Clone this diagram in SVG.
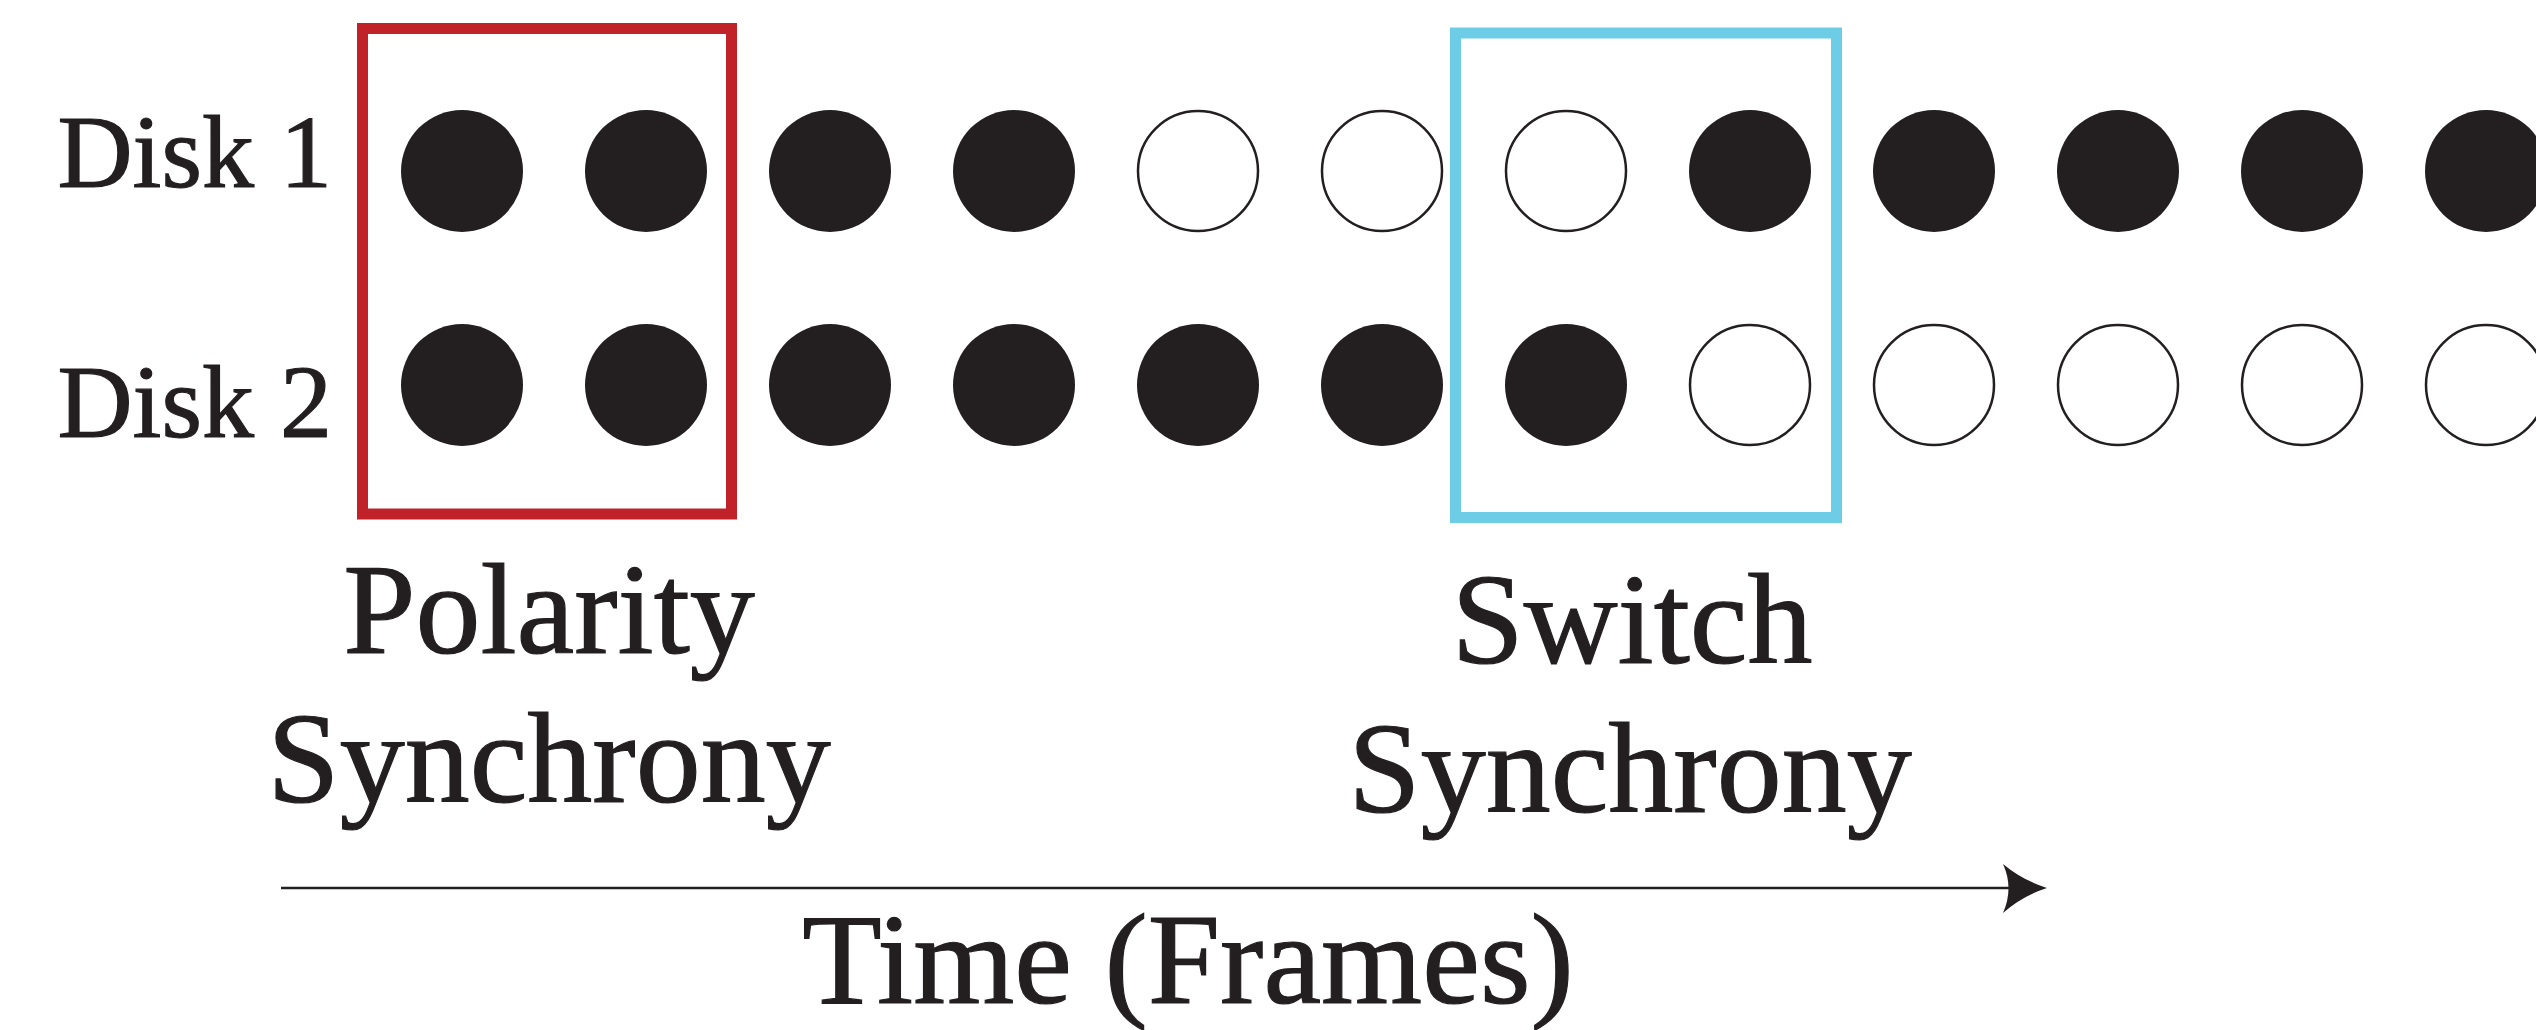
<svg xmlns="http://www.w3.org/2000/svg" width="2536" height="1030" viewBox="0 0 2536 1030">
<style>
.lbl{font-family:"Liberation Serif","Times New Roman",serif;fill:#231f20;stroke:#231f20;stroke-width:1.2}
.disk{font-size:104px}
.big{font-size:130px}
.on{fill:#231f20}
.off{fill:#ffffff;stroke:#231f20;stroke-width:2.5}
</style>
<rect width="2536" height="1030" fill="#ffffff"/>
<g id="disk1-label"><text class="lbl disk" x="332" y="187" text-anchor="end">Disk 1</text></g>
<g id="disk2-label"><text class="lbl disk" x="332" y="437" text-anchor="end">Disk 2</text></g>
<g id="disk1-row">
<circle class="on" cx="462" cy="171" r="61"/>
<circle class="on" cx="646" cy="171" r="61"/>
<circle class="on" cx="830" cy="171" r="61"/>
<circle class="on" cx="1014" cy="171" r="61"/>
<circle class="off" cx="1198" cy="171" r="60"/>
<circle class="off" cx="1382" cy="171" r="60"/>
<circle class="off" cx="1566" cy="171" r="60"/>
<circle class="on" cx="1750" cy="171" r="61"/>
<circle class="on" cx="1934" cy="171" r="61"/>
<circle class="on" cx="2118" cy="171" r="61"/>
<circle class="on" cx="2302" cy="171" r="61"/>
<circle class="on" cx="2486" cy="171" r="61"/>
</g>
<g id="disk2-row">
<circle class="on" cx="462" cy="385" r="61"/>
<circle class="on" cx="646" cy="385" r="61"/>
<circle class="on" cx="830" cy="385" r="61"/>
<circle class="on" cx="1014" cy="385" r="61"/>
<circle class="on" cx="1198" cy="385" r="61"/>
<circle class="on" cx="1382" cy="385" r="61"/>
<circle class="on" cx="1566" cy="385" r="61"/>
<circle class="off" cx="1750" cy="385" r="60"/>
<circle class="off" cx="1934" cy="385" r="60"/>
<circle class="off" cx="2118" cy="385" r="60"/>
<circle class="off" cx="2302" cy="385" r="60"/>
<circle class="off" cx="2486" cy="385" r="60"/>
</g>
<g id="polarity-box"><rect x="362.5" y="28.5" width="369" height="485.5" fill="none" stroke="#c1222a" stroke-width="11"/></g>
<g id="switch-box"><rect x="1455.5" y="33" width="381" height="484.5" fill="none" stroke="#6ecde6" stroke-width="11"/></g>
<g id="polarity-label"><text class="lbl big" text-anchor="middle"><tspan x="549" y="653">Polarity</tspan><tspan x="549" y="802">Synchrony</tspan></text></g>
<g id="switch-label"><text class="lbl big" text-anchor="middle"><tspan x="1632" y="663">Switch</tspan><tspan x="1630" y="812">Synchrony</tspan></text></g>
<g id="connectors">
<line x1="281" y1="888" x2="2015" y2="888" stroke="#231f20" stroke-width="2.5"/>
<path d="M2047,888 Q2022,880 2003,864 Q2014,888 2003,913 Q2022,896 2047,888 Z" fill="#231f20"/>
</g>
<g id="time-label"><text class="lbl big" x="1188" y="1003" text-anchor="middle">Time (Frames)</text></g>
</svg>
